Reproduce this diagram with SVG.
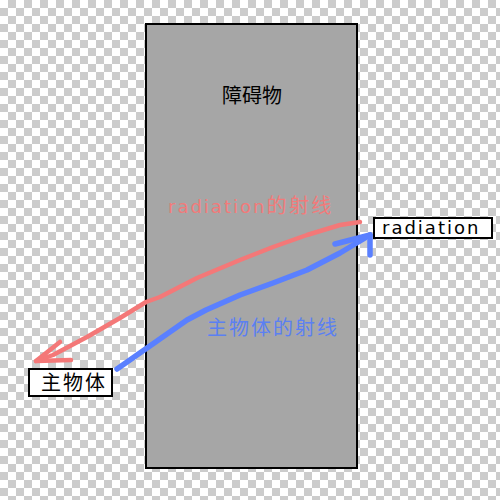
<svg xmlns="http://www.w3.org/2000/svg" width="500" height="500" viewBox="0 0 500 500">
  <defs>
    <pattern id="checker" x="0" y="0" width="16" height="16" patternUnits="userSpaceOnUse">
      <rect width="16" height="16" fill="#ffffff"/>
      <rect x="8" y="0" width="8" height="8" fill="#cccccc"/>
      <rect x="0" y="8" width="8" height="8" fill="#cccccc"/>
    </pattern>
  </defs>
  <style>
    .t { font-family: "DejaVu Sans", "Noto Sans CJK SC", sans-serif; }
    .box { fill: #ffffff; stroke: #000000; stroke-width: 2; }
    .red { fill: none; stroke: #f47878; stroke-width: 4.5; stroke-linecap: round; stroke-linejoin: round; }
    .blue { fill: none; stroke: #5a80ff; stroke-width: 5.5; stroke-linecap: round; stroke-linejoin: round; }
  </style>
  <rect width="500" height="500" fill="url(#checker)"/>

  <g id="obstacle">
    <rect x="146" y="24" width="211" height="444" fill="#a6a6a6" stroke="#000000" stroke-width="2"/>
    <text class="t" x="222" y="103" font-size="20" fill="#000000">障碍物</text>
  </g>

  <g id="radiation">
    <rect class="box" x="374" y="218" width="118" height="20"/>
    <text class="t" x="382" y="234" font-size="18" letter-spacing="2" fill="#000000">radiation</text>
  </g>

  <g id="subject">
    <rect class="box" x="29" y="369" width="83" height="27"/>
    <text class="t" x="41" y="390" font-size="20" letter-spacing="2" fill="#000000">主物体</text>
  </g>

  <g id="connectors">
    <path class="red" d="M360,222 L340,225 L307,235 L273,247 L240,260 L197,278 L160,297 L146,302 L120,318 L87,337 L53,355 L36,361"/>
    <path class="red" d="M60,342 L36,361 L71,360"/>
    <path class="blue" d="M117,369 L147,348 L187,320 L206,310 L240,295 L273,283 L307,270 L340,253 L370,235"/>
    <path class="blue" d="M335,244 L370,235 L370,255"/>
  </g>

  <g id="labels">
    <text class="t" x="168" y="213" font-size="18" letter-spacing="2" fill="#f27a7a">radiation<tspan font-size="20" letter-spacing="2.5">的射线</tspan></text>
    <text class="t" x="207" y="335" font-size="20" letter-spacing="2" fill="#5b80f2">主物体的射线</text>
  </g>
</svg>
